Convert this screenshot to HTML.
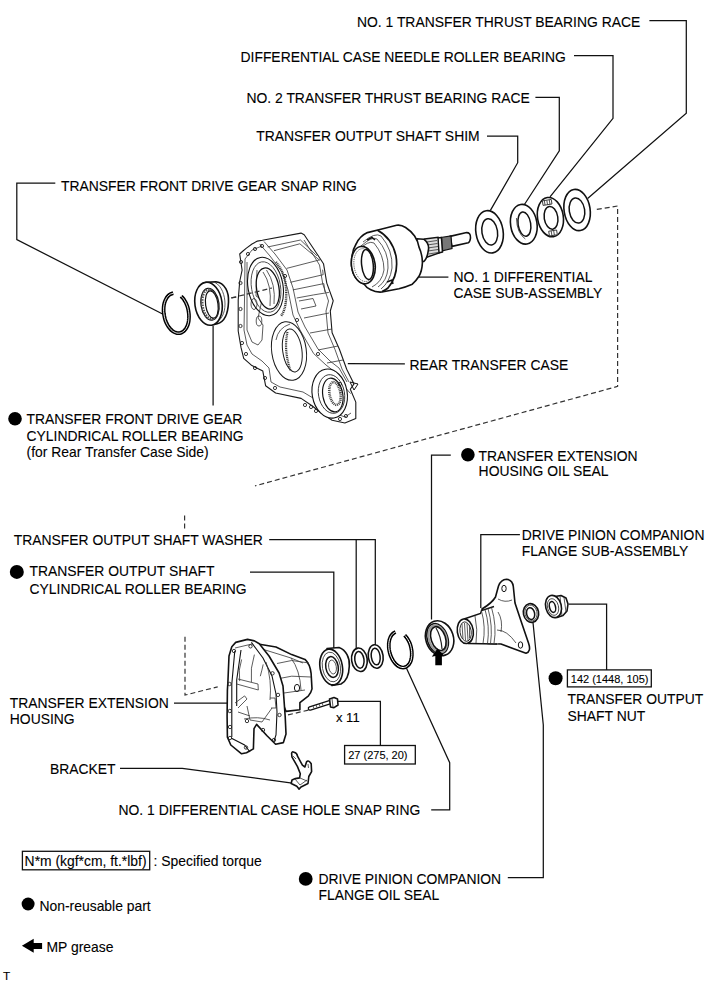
<!DOCTYPE html>
<html><head><meta charset="utf-8">
<style>
html,body{margin:0;padding:0;background:#fff;}
body{width:713px;height:982px;overflow:hidden;position:relative;}
svg{position:absolute;left:0;top:0;}
text{font-family:"Liberation Sans",sans-serif;font-size:13.9px;fill:#000;stroke:#000;stroke-width:0.1px;}
.ld{fill:none;stroke:#111;stroke-width:1.25;}
.ds{fill:none;stroke:#333;stroke-width:1.2;stroke-dasharray:5 3;}
.p{fill:#fff;stroke:#111;stroke-width:1.6;stroke-linejoin:round;}
.t{fill:none;stroke:#333;stroke-width:0.8;}
.tb{fill:none;stroke:#111;stroke-width:1.5;}
.sm{font-size:11px;}
</style></head><body>
<svg width="713" height="982" viewBox="0 0 713 982">
<!-- TEXT LABELS -->
<g id="labels">
<text x="357" y="26.7">NO. 1 TRANSFER THRUST BEARING RACE</text>
<text x="240.5" y="62.1">DIFFERENTIAL CASE NEEDLE ROLLER BEARING</text>
<text x="246.5" y="102.8">NO. 2 TRANSFER THRUST BEARING RACE</text>
<text x="256.3" y="141.1">TRANSFER OUTPUT SHAFT SHIM</text>
<text x="61" y="191">TRANSFER FRONT DRIVE GEAR SNAP RING</text>
<text x="453.5" y="281.7">NO. 1 DIFFERENTIAL</text>
<text x="453.5" y="297.9">CASE SUB-ASSEMBLY</text>
<text x="409.5" y="369.9">REAR TRANSFER CASE</text>
<text x="26.5" y="423.7">TRANSFER FRONT DRIVE GEAR</text>
<text x="26.5" y="440.8">CYLINDRICAL ROLLER BEARING</text>
<text x="26.5" y="456.5">(for Rear Transfer Case Side)</text>
<text x="478.6" y="460.6">TRANSFER EXTENSION</text>
<text x="478.6" y="476.2">HOUSING OIL SEAL</text>
<text x="521.8" y="539.9">DRIVE PINION COMPANION</text>
<text x="521.8" y="555.9">FLANGE SUB-ASSEMBLY</text>
<text x="13.8" y="544.7">TRANSFER OUTPUT SHAFT WASHER</text>
<text x="29.5" y="576.1">TRANSFER OUTPUT SHAFT</text>
<text x="29.5" y="593.5">CYLINDRICAL ROLLER BEARING</text>
<text x="9.8" y="708">TRANSFER EXTENSION</text>
<text x="9.8" y="724">HOUSING</text>
<text x="336" y="722" style="font-size:13px">x 11</text>
<text x="50" y="774">BRACKET</text>
<text x="118.5" y="814.6">NO. 1 DIFFERENTIAL CASE HOLE SNAP RING</text>
<text x="567.5" y="703.7">TRANSFER OUTPUT</text>
<text x="567.5" y="720.5">SHAFT NUT</text>
<text x="318.5" y="884.4">DRIVE PINION COMPANION</text>
<text x="318.5" y="900.1">FLANGE OIL SEAL</text>
<text class="sm" x="570.8" y="682.9">142 (1448, 105)</text>
<text class="sm" x="348.2" y="759">27 (275, 20)</text>
<text x="24.6" y="865.6">N*m (kgf*cm, ft.*lbf)</text>
<text x="153.6" y="866">: Specified torque</text>
<text x="39.5" y="910.5">Non-reusable part</text>
<text x="46.5" y="951.8">MP grease</text>
<text x="3" y="979.7" style="font-size:11.8px">T</text>
</g>
<!-- bullets -->
<g fill="#000">
<circle cx="15" cy="418.8" r="6.8"/>
<circle cx="16.8" cy="571.9" r="7"/>
<circle cx="467.9" cy="454.8" r="6.8"/>
<circle cx="555.6" cy="678.2" r="7"/>
<circle cx="305.7" cy="878.9" r="6.9"/>
<circle cx="28.1" cy="904" r="6.5"/>
</g>
<!-- boxes -->
<rect x="567.4" y="669.9" width="83.9" height="17" fill="none" stroke="#111" stroke-width="1.3"/>
<rect x="344.6" y="745.5" width="70.7" height="18.5" fill="none" stroke="#111" stroke-width="1.3"/>
<rect x="22.4" y="851.3" width="127.3" height="18.5" fill="none" stroke="#111" stroke-width="1.3"/>
<!-- legend arrow -->
<path d="M21.9 945.8 L33.7 938.8 L33.7 943 L42.1 943 L42.1 949 L33.7 949 L33.7 952.7 Z" fill="#000"/>

<!-- LEADER LINES -->
<g class="ld">
<polyline points="649.4,20.5 686.3,20.5 686.3,113.3 587.6,198.5"/>
<polyline points="574,55.6 613,55.6 613,118.4 550,196.8"/>
<polyline points="535.4,97.3 559.3,97.3 559.3,150.8 522.8,207"/>
<polyline points="487,136.1 517.7,136.1 517.7,162.7 490.4,210.4"/>
<polyline points="55.3,183.2 16.8,183.2 16.8,239.6 162.6,314"/>
<polyline points="213.1,326 213.1,405.5"/>
<polyline points="418.9,277.1 448.4,277.1"/>
<polyline points="347.8,363.7 404.9,363.8"/>
<polyline points="450.8,455.2 431.5,455.2 431.5,619.4"/>
<polyline points="519.9,534.5 480.8,534.5 480.8,608"/>
<polyline points="269.2,539.7 375.3,539.7 375.3,645.7"/>
<polyline points="356.2,539.7 356.2,649"/>
<polyline points="250,572 333.8,572 333.8,648"/>
<polyline points="174,703 227.2,703"/>
<polyline points="120,768.4 182.3,768.4 294,783.3"/>
<polyline points="337.9,701.4 380.4,701.4 380.4,745.5"/>
<polyline points="406.5,668.2 449.7,762.7 449.7,809.8 431.2,809.8"/>
<polyline points="568.7,604.1 606.6,604.1 606.6,669.9"/>
<polyline points="533,622.5 543.3,725 543.3,877.7 507.8,877.7"/>
</g>
<!-- DASHED -->
<g class="ds">
<polyline points="596.8,209.4 617.6,206 617.6,386.4 255,485.9"/>
<polyline points="231.3,297.9 262,293"/>
<polyline points="184.6,515.5 184.6,531"/>
<polyline points="185,636.7 185,695.1 217.7,686.8"/>
<polyline points="288,714.9 308.3,710.1"/>
</g>

<g id="parts">
<!-- TOP RINGS -->
<g transform="rotate(-9 489.5 231.8)"><ellipse class="p" cx="489.5" cy="231.8" rx="13.6" ry="21.3" stroke-width="1.5"/><ellipse class="tb" cx="489.7" cy="231.9" rx="7.8" ry="13.2" stroke-width="1.4"/></g>
<g transform="rotate(-9 523.8 224.2)"><ellipse class="p" cx="523.8" cy="224.2" rx="13.2" ry="20" stroke-width="1.5"/><ellipse class="tb" cx="524.4" cy="224.2" rx="6.3" ry="12.3" stroke-width="1.4"/><path class="t" d="M517.5 217 Q515.5 232 523 239" stroke="#222"/></g>
<g transform="rotate(-9 550.4 217.1)"><ellipse class="p" cx="550.4" cy="217.1" rx="12.9" ry="19.8" stroke-width="1.5"/><ellipse class="tb" cx="550.9" cy="217.9" rx="6.8" ry="11.5" stroke-width="1.4"/>
<rect x="545" y="199.8" width="9" height="4.6" fill="#fff" stroke="#333" stroke-width="0.9"/><path class="t" d="M547 200 L547 204.4 M549.5 200 L549.5 204.4 M552 200 L552 204.4" stroke="#333"/>
<rect x="546.5" y="230.8" width="8" height="4.8" fill="#fff" stroke="#333" stroke-width="0.9"/><path class="t" d="M549 231 L549 235.5 M551.5 231 L551.5 235.5" stroke="#333"/></g>
<g transform="rotate(-9 577.1 210)"><ellipse class="p" cx="577.1" cy="210" rx="13" ry="20.8" stroke-width="1.5"/><ellipse class="tb" cx="576.9" cy="210.5" rx="7.7" ry="12.6" stroke-width="1.4"/></g>

<!-- REAR TRANSFER CASE -->
<g id="rearcase">
<path fill="#fff" stroke="#1a1a1a" stroke-width="1.1" stroke-linejoin="round" d="M239.7 254 L243 251 L246.1 248.4 L252 244 L257.4 241.1 L262.3 240.3 L301 233.1 L304.2 234.7 L317.1 254 L323.5 263.7 L326.8 283.1 L333.2 300.8 L330.3 311 L332.1 332.8 L339.4 349.2 L346.7 369.3 L354 383.9 L350.3 389.3 L355.8 402.1 L355.8 418.5 L344.9 423 L332.1 420.3 L321.2 413 L312 405.7 L301.1 398.4 L275.6 393 L265.6 385.7 L262.8 371.1 L251.9 365.6 L243.7 358.3 L241 347.4 L238.2 331 L238.2 300 L239.7 281.5 L242.1 270.2 Z"/>
<!-- inner rim -->
<path class="t" stroke="#222" stroke-width="0.9" d="M245 259 L252 250 L262 246 M245 259 L244.5 300 L244 330 L247 345 L252 354 L262 361 L269 368 L271 382 L280 387 L303 392 L318 401 L334 413 L345 417 L351 413"/>
<path class="t" stroke="#333" stroke-width="0.8" d="M247 262 L247 330 L252 342 L258 345 L262 340 L263 325 L258 318 L262 300 L256 296 L257 270"/>
<ellipse cx="254" cy="304" rx="3" ry="5.5" fill="none" stroke="#333" stroke-width="0.8"/>
<ellipse cx="259" cy="321" rx="2.8" ry="5" fill="none" stroke="#333" stroke-width="0.8"/>
<!-- spine double line -->
<path class="t" stroke="#222" stroke-width="0.9" d="M259.6 243.9 L270 256 L282 272 L288 290 L293 315 L300 330 L313.6 353.5 L326 365 L335 372 L343 385 L350.6 393.6"/>
<path class="t" stroke="#222" stroke-width="0.9" d="M264 241.5 L275 254 L287 270 L293 288 L298 312 L305 327 L318 349 L330 361 L339 368 L347 382"/>
<path class="t" stroke="#222" stroke-width="0.85" d="M304 240 L314 256 L319.5 265 L322.8 284 L328.5 301 L326 311 L328 333 L335 349.5 L342 369 L349 382"/>
<!-- block top and cells -->
<path class="t" stroke="#222" stroke-width="0.9" d="M267.6 247 L300.5 240 M274 250.7 L299.8 243.8 L319.4 260 M300.5 240 L316.9 255.8 M286.6 268.4 L320.7 259.6 M290.4 282.3 L323.2 274.7 L322.6 269.7 M292.9 289.9 L323.8 283.6 M296.7 298 L313.7 294.9 L328.9 292.4 M299 301 L313 298.5 L316 306 L301 309 M304 318 L329 313 M310 333 L332 329 M318 350 L338 346 M327 363 L343 360 M323.8 283.6 L325 292"/>
<!-- top bore -->
<ellipse cx="265.5" cy="286.5" rx="17.5" ry="29.5" transform="rotate(-10 265.5 286.5)" fill="none" stroke="#111" stroke-width="1.1"/><ellipse cx="266" cy="287" rx="14.5" ry="25.5" transform="rotate(-10 266 287)" fill="none" stroke="#333" stroke-width="0.8"/>
<ellipse cx="267.8" cy="288.5" rx="11.2" ry="20.8" transform="rotate(-10 267.8 288.5)" fill="#fff" stroke="#111" stroke-width="1.3"/>
<path d="M276 262 Q288 276 286 300 Q285 311 281 316" fill="none" stroke="#333" stroke-width="2.4" stroke-dasharray="1 0.8"/>
<path class="t" d="M263 272 Q272 285 270 306 M266.5 270 Q276 284 274 304" stroke="#444"/>
<!-- middle bore -->
<ellipse cx="289" cy="351" rx="17.3" ry="29.5" transform="rotate(-8 289 351)" fill="none" stroke="#1a1a1a" stroke-width="1"/>
<path d="M276 340 Q278 328 290 324" fill="none" stroke="#333" stroke-width="0.8"/>
<ellipse cx="292.3" cy="350.5" rx="9.6" ry="21.6" transform="rotate(-8 292.3 350.5)" fill="#fff" stroke="#1a1a1a" stroke-width="1"/>
<path d="M287.5 332 Q283.5 350 290.5 370.5" fill="none" stroke="#333" stroke-width="2.2" stroke-dasharray="1 0.8"/>
<!-- bottom bore -->
<ellipse cx="329.7" cy="393.6" rx="17.5" ry="24.7" transform="rotate(-10 329.7 393.6)" fill="#fff" stroke="#111" stroke-width="1.1"/>
<ellipse cx="331.5" cy="394" rx="13" ry="19.5" transform="rotate(-10 331.5 394)" fill="none" stroke="#333" stroke-width="0.9"/>
<ellipse cx="332.8" cy="395" rx="10" ry="17" transform="rotate(-10 332.8 395)" fill="#fff" stroke="#111" stroke-width="1.2"/>
<ellipse cx="335" cy="393.5" rx="5.5" ry="11.5" transform="rotate(-10 335 393.5)" fill="#fff" stroke="#444" stroke-width="2.6" stroke-dasharray="1 0.8"/>
<path d="M350 382 L358 384 L354 390 Z" fill="none" stroke="#111" stroke-width="1"/>
<!-- bolt holes -->
<g fill="none" stroke="#222" stroke-width="0.9">
<circle cx="241" cy="262" r="1.6"/><circle cx="248" cy="254" r="1.6"/><circle cx="255" cy="249" r="1.6"/><circle cx="262" cy="246" r="1.6"/>
<circle cx="240.5" cy="283" r="1.6"/><circle cx="240.5" cy="309" r="1.6"/><circle cx="240.5" cy="326" r="1.6"/><circle cx="242" cy="343" r="1.6"/>
<circle cx="246" cy="354" r="1.6"/><circle cx="255" cy="368" r="1.6"/><circle cx="265" cy="378" r="1.6"/><circle cx="275" cy="388" r="1.6"/>
<circle cx="305" cy="405" r="1.6"/><circle cx="311" cy="407" r="1.6"/><circle cx="316" cy="411" r="1.6"/><circle cx="340" cy="419" r="1.6"/><circle cx="346" cy="416" r="1.6"/>
<circle cx="285" cy="276" r="1.6"/><circle cx="297" cy="320" r="1.6"/><circle cx="318" cy="354" r="1.6"/><circle cx="340" cy="384" r="1.6"/>
</g>
</g>

<polyline class="ds" points="231.3,297.9 272,288"/>
<!-- DIFFERENTIAL CASE -->
<g>
<!-- shaft end -->
<path class="p" d="M450 236.4 L465.6 232.7 Q471 232 470.5 238 Q470 242 468.3 242.8 L451.9 246.4 Z"/>
<path d="M440.5 237.5 L451 236 L452 248.5 L441.5 251 Z" fill="#777" stroke="#111" stroke-width="1.2"/>
<path class="p" d="M437.5 238 L441.5 237.5 L442.5 252 L438.5 253 Z" stroke-width="1.2"/>
<path d="M424.5 239 L438 237.3 L439 253 L426 257.5 Z" fill="#ddd" stroke="#111" stroke-width="1.4"/>
<path class="t" d="M427 242 L437 240.5 M427 245 L437.5 243.5 M427.5 248 L438 246.5 M428 251 L438 249.5 M428.5 254 L438 252.5" stroke="#555"/>
<path class="p" d="M416.8 238.7 L423.7 239.2 Q430 244 428.2 251 Q427 259 423.7 261.5 L417 262 Z"/>
<!-- drum back -->
<path class="p" stroke-width="1.7" d="M356.2 243.8 Q360 236 367.4 232.6 L380.9 229.2 L396.6 225.3 Q401 224.5 405.6 227.5 Q411 231 414.6 236 Q418 241 419 247.2 Q422.5 255 422.4 262.9 Q422 271 419 276.3 Q416 281 412.3 284.2 Q406 287 398.9 288.7 L382 292 Q376 292.5 370.8 289.8 Q366 287.5 364.1 284.2 Q353 280 351.5 266 Q351 252 356.2 243.8 Z"/>
<path fill="none" stroke="#111" stroke-width="1.7" d="M377.5 230.3 Q392 238 396 256 Q399 275 388 288 Q385 290.5 382 291.5"/>
<path class="t" d="M363 242 Q375 232 381 236 Q393 250 392 268 Q390 282 381 289 M361 246 Q372 236 377 239 Q389 252 388 268 Q387 281 378 287 M359 250 Q368 240 374 243 Q384 255 384 270 Q382 282 372 287" stroke="#333"/>
<path class="tb" stroke-width="1.1" d="M367 240 L372 237.5 L375 240 M387 282 L392 280 L393 284"/>
<ellipse class="p" cx="363.3" cy="265.1" rx="11.8" ry="18.8" transform="rotate(-8 363.3 265.1)" stroke-width="1.6"/>
<ellipse class="t" cx="364" cy="265.1" rx="10" ry="16.5" transform="rotate(-8 364 265.1)" stroke="#555" stroke-dasharray="1.2 1"/>
<ellipse class="tb" cx="367.4" cy="264.5" rx="5.8" ry="15" transform="rotate(-6 367.4 264.5)" stroke-width="1.5"/>
</g>

<!-- EXTENSION HOUSING -->
<g id="exthousing">
<path class="p" stroke-width="1.7" d="M258 644 L276 647 L291.7 654.6 L305 659.4 Q310 664 311.1 673.3 L312 688.9 Q311 693 308.5 695.8 L299.9 702.7 L299.9 709.7 L286 711.4 Z"/>
<path class="t" stroke="#222" stroke-width="0.9" d="M262 649 L291 658 L303 663 M277 663.5 L291.7 660.5 L309 663 M281 678.2 L291.7 676.2 L311 677 M284 693 L305 690 M291 658 Q300 670 301 690"/>
<ellipse cx="297" cy="688" rx="2.6" ry="3.6" fill="none" stroke="#111" stroke-width="1"/>
<path class="p" stroke-width="1.7" d="M231.8 646.8 L235.7 642.4 L247.5 639.4 L254.4 640.9 L259.3 643.8 L269 656 L279.1 673 L283 686 L285.2 716.6 L286 733.9 L283.4 742.6 L275.6 744.3 L267 735.7 L256.6 724.4 L254 728.7 L253.4 748.9 L246.5 752.8 L241.6 753.8 L230.8 745 L227.4 737.1 L227.1 716.6 L227.4 690 L227.9 682.1 L229 656 Z"/>
<path fill="none" stroke="#111" stroke-width="1.1" d="M251.4 642.4 L263 658 L272 676 L276 694 L277 712 L276 735 L274 741 M234.8 650.7 L231.8 684 L231.8 737.1 M231 738 L244.6 745 L250 752 M241 650 L236.7 680 L236.7 706"/>
<path class="t" stroke="#333" stroke-width="0.8" d="M235 648 L252 644 M241.6 659.5 Q238 670 239.7 681.1 M254.4 654.6 Q250 668 251.4 682.1 M263.2 664.4 Q262 670 260.3 676.2 M266 662 Q272 680 270 700 M236.7 684 L258.3 690 L258 684 L238 679 M235 703 L244.6 695.9 L247 699 L238 708 M238 712 L250 716 M244 719 Q258 716 270 720 M247 706 L250 720 L262 722 M262 722 L272 708 M270 698 L275 698 L276 708 L271 708"/>
<g fill="none" stroke="#222" stroke-width="0.9">
<circle cx="234" cy="651" r="1.7"/><circle cx="250.5" cy="646.3" r="1.7"/><circle cx="272.5" cy="673.3" r="1.7"/><circle cx="278" cy="694.9" r="1.7"/>
<circle cx="229.5" cy="684" r="1.7"/><circle cx="229.8" cy="711" r="1.7"/><circle cx="230" cy="727" r="1.7"/><circle cx="230" cy="738" r="1.7"/>
<circle cx="246" cy="747.5" r="1.7"/><circle cx="274" cy="740" r="1.7"/><circle cx="279.5" cy="715" r="1.7"/><circle cx="263" cy="730" r="1.7"/><circle cx="247" cy="721" r="1.7"/>
</g>
</g>
<!-- BOLT -->
<g>
<path d="M310 708.5 L330.5 702" fill="none" stroke="#111" stroke-width="4.6" stroke-linecap="round"/>
<path d="M310 708.5 L330.5 702" fill="none" stroke="#fff" stroke-width="2" stroke-linecap="round"/>
<path class="t" d="M313 706 L314 708.5 M316 705 L317 707.5 M319 704 L320 706.5 M322 703 L323 705.5" stroke="#555"/>
<path class="p" stroke-width="1.3" d="M329.5 699 L334 697.6 L337.5 699 L338 705 L334 707.7 L330.5 707 Z"/>
<path class="t" d="M332 698.5 L333 707"/>
</g>
<!-- BRACKET -->
<path class="p" stroke-width="1.3" d="M291.6 753.3 Q292 751 294 752.3 Q297 753 297.5 756.1 L302.4 765.2 L304.9 767 L306.6 761.7 Q308.5 759.5 311.2 763.8 L311.6 771.6 L308.8 776.5 L308 783.5 L301 787 L299 789.1 L296.8 786.3 L291.2 783.5 L292 780 L295.4 778.6 L299.6 777.9 L300.3 773.7 L297.5 766.6 L291.9 756.8 Z"/>
<path class="t" d="M293 756 L296 759 M308 764 L308.5 768 M295 779 L300 785 L307 780 M300 778 L307 781"/>
<!-- OUTPUT SHAFT BEARING -->
<g>
<path class="p" d="M327 648.5 L339 647.5 C346 650 350 658 349.3 666 C349 676 345 682 341 684 L332 685.5 Z"/>
<ellipse class="p" cx="331.2" cy="667" rx="11.2" ry="18" transform="rotate(-10 331.2 667)"/>
<ellipse class="t" cx="331.4" cy="667" rx="9" ry="15" transform="rotate(-10 331.4 667)"/>
<ellipse class="tb" cx="332" cy="667" rx="6.2" ry="10.5" transform="rotate(-10 332 667)" stroke-width="1.1"/>
<ellipse class="t" cx="332.5" cy="667" rx="3.8" ry="7" transform="rotate(-10 332.5 667)"/>
</g>
<!-- WASHERS -->
<g transform="rotate(-8 359.4 659.8)"><ellipse class="p" cx="359.4" cy="659.8" rx="7.8" ry="11.8"/><ellipse class="tb" cx="359.4" cy="659.8" rx="4.6" ry="8.4" stroke-width="1.3"/></g>
<g transform="rotate(-8 375.7 656.5)"><ellipse class="p" cx="375.7" cy="656.5" rx="7.4" ry="11.8"/><ellipse class="tb" cx="375.7" cy="656.5" rx="4.4" ry="8.4" stroke-width="1.3"/></g>
<!-- HOLE SNAP RING -->
<path d="M404.7 635.3 L405.9 636.6 L407.0 638.1 L408.0 639.7 L409.0 641.5 L409.8 643.3 L410.5 645.2 L411.0 647.2 L411.4 649.3 L411.7 651.3 L411.8 653.3 L411.8 655.3 L411.6 657.2 L411.3 659.0 L410.9 660.6 L410.3 662.2 L409.5 663.5 L408.7 664.7 L407.7 665.7 L406.7 666.5 L405.5 667.1 L404.3 667.4 L403.1 667.6 L401.8 667.4 L400.5 667.1 L399.2 666.5 L397.9 665.8 L396.6 664.8 L395.4 663.6 L394.2 662.2 L393.2 660.7 L392.2 659.0 L391.3 657.2 L390.5 655.3 L389.9 653.4 L389.4 651.4 L389.0 649.3 L388.8 647.3 L388.8 645.3 L388.8 643.4 L389.1 641.5 L389.4 639.8 L390.0 638.1 L390.6 636.7 L391.4 635.4 L392.3 634.3 L393.3 633.3 L394.4 632.6 L395.5 632.1" fill="none" stroke="#000" stroke-width="3.8"/>
<path d="M404.7 635.3 L405.9 636.6 L407.0 638.1 L408.0 639.7 L409.0 641.5 L409.8 643.3 L410.5 645.2 L411.0 647.2 L411.4 649.3 L411.7 651.3 L411.8 653.3 L411.8 655.3 L411.6 657.2 L411.3 659.0 L410.9 660.6 L410.3 662.2 L409.5 663.5 L408.7 664.7 L407.7 665.7 L406.7 666.5 L405.5 667.1 L404.3 667.4 L403.1 667.6 L401.8 667.4 L400.5 667.1 L399.2 666.5 L397.9 665.8 L396.6 664.8 L395.4 663.6 L394.2 662.2 L393.2 660.7 L392.2 659.0 L391.3 657.2 L390.5 655.3 L389.9 653.4 L389.4 651.4 L389.0 649.3 L388.8 647.3 L388.8 645.3 L388.8 643.4 L389.1 641.5 L389.4 639.8 L390.0 638.1 L390.6 636.7 L391.4 635.4 L392.3 634.3 L393.3 633.3 L394.4 632.6 L395.5 632.1" fill="none" stroke="#fff" stroke-width="1.0"/>
<!-- OIL SEAL -->
<g>
<ellipse class="p" cx="439.6" cy="638.2" rx="13.8" ry="17.8" transform="rotate(-18 439.6 638.2)" stroke-width="1.7"/>
<ellipse cx="437.6" cy="638.8" rx="10.2" ry="15.6" transform="rotate(-18 437.6 638.8)" fill="none" stroke="#111" stroke-width="1.5"/>
<ellipse cx="437.8" cy="638.8" rx="8.8" ry="14" transform="rotate(-18 437.8 638.8)" fill="none" stroke="#999" stroke-width="2"/>
<ellipse cx="438.3" cy="638.6" rx="7.2" ry="12.3" transform="rotate(-18 438.3 638.6)" fill="#fff" stroke="#111" stroke-width="1.6"/>
<path d="M436 628 Q441 636 442 649" fill="none" stroke="#222" stroke-width="1.2"/>
<path d="M437.5 648.5 L443.8 655.3 L441.9 655.8 L441.9 665.2 L435.3 665.2 L435.3 656 L431.8 656.8 Z" fill="#000"/>
</g>
<!-- FLANGE -->
<g>
<path class="p" stroke-width="1.5" d="M482 609 Q492 603 495.5 597 L498.5 586 Q501 579.5 506.5 579.3 Q512.5 579.8 513.3 586.5 L515 603 L521 621 L528.5 643 Q531.5 651.5 526 653.3 L513 648.5 L501 644 L488 643.5 Z"/>
<path d="M464 619 L480.5 613.5 L481.5 610.5 L496 606 L499 620 L499 643 L494 644 L468 643.5 Z" fill="#fff" stroke="none"/>
<path fill="none" stroke="#111" stroke-width="1.4" d="M464 619 L480.5 613.5 L481.5 610.5 L494 606.5 M468 643.5 L497 644"/>
<ellipse class="p" cx="465.3" cy="631.2" rx="8" ry="12.4" transform="rotate(-8 465.3 631.2)" stroke-width="1.5"/>
<ellipse cx="465.6" cy="631.6" rx="5.6" ry="9.8" transform="rotate(-8 465.6 631.6)" fill="#fff" stroke="#222" stroke-width="0.9"/>
<path class="t" stroke="#555" stroke-width="0.8" d="M462 624 L463 639 M464.5 623 L465.5 640.5 M467 623 L468 640.5 M469.5 625 L469.5 638"/>
<path class="t" stroke="#333" stroke-width="0.8" d="M481.5 611 Q486 627 483 643.5 M485 609.5 Q490 626 487.5 643.5 M488 608.5 Q493 626 490.5 643.5 M491.5 607.5 Q497 626 494 643.5 M475 616 Q478 630 476 643"/>
<path class="t" stroke="#333" stroke-width="0.8" d="M498 599 Q505 603 512 600 M497 630 Q507 630 516 643 M498 612 Q503 620 501 632"/>
<ellipse cx="504" cy="588.5" rx="2.2" ry="3.2" fill="none" stroke="#111" stroke-width="1"/>
<ellipse cx="520.5" cy="645" rx="2.2" ry="3.2" fill="none" stroke="#111" stroke-width="1"/>
</g>
<!-- SMALL SEAL -->
<g transform="rotate(-12 531 613)"><ellipse class="p" cx="531" cy="613" rx="7.6" ry="9.4"/><ellipse class="tb" cx="530.5" cy="613.5" rx="4" ry="6" stroke-width="1.3"/><ellipse class="t" cx="531" cy="613" rx="6" ry="8"/></g>
<!-- NUT -->
<g>
<path class="p" d="M555 596.5 L561 595.5 L566 598 L568 604 L567 611 L563 615.5 L557 617.5 Z" stroke-width="1.5"/>
<path class="t" d="M560 596 L562 616 M564 597.5 L566 612"/>
<ellipse class="p" cx="553.5" cy="606.5" rx="7.8" ry="11.3" transform="rotate(-14 553.5 606.5)"/>
<ellipse class="tb" cx="552.5" cy="607" rx="3" ry="5.5" transform="rotate(-14 552.5 607)" stroke-width="1.3"/>
<ellipse class="t" cx="553" cy="607" rx="5.5" ry="8.5" transform="rotate(-14 553 607)"/>
</g>

<!-- LEFT SNAP RING + BEARING -->
<g>
<path d="M181.1 296.2 L182.4 297.6 L183.7 299.1 L184.8 300.9 L185.9 302.8 L186.8 304.9 L187.6 307.1 L188.2 309.4 L188.6 311.7 L188.9 314.1 L189.0 316.4 L188.9 318.7 L188.7 321.0 L188.3 323.1 L187.7 325.1 L186.9 326.9 L186.0 328.5 L185.0 329.9 L183.9 331.1 L182.6 332.0 L181.3 332.7 L179.9 333.1 L178.4 333.2 L176.9 333.1 L175.4 332.6 L173.9 331.9 L172.5 331.0 L171.1 329.8 L169.8 328.3 L168.5 326.7 L167.4 324.9 L166.4 322.9 L165.5 320.8 L164.8 318.5 L164.3 316.2 L163.9 313.9 L163.6 311.5 L163.6 309.2 L163.7 306.9 L164.0 304.7 L164.5 302.6 L165.2 300.7 L166.0 299.0 L166.9 297.4 L168.0 296.1 L169.1 295.0 L170.4 294.1 L171.8 293.6 L173.2 293.2" fill="none" stroke="#000" stroke-width="3.8"/>
<path d="M181.1 296.2 L182.4 297.6 L183.7 299.1 L184.8 300.9 L185.9 302.8 L186.8 304.9 L187.6 307.1 L188.2 309.4 L188.6 311.7 L188.9 314.1 L189.0 316.4 L188.9 318.7 L188.7 321.0 L188.3 323.1 L187.7 325.1 L186.9 326.9 L186.0 328.5 L185.0 329.9 L183.9 331.1 L182.6 332.0 L181.3 332.7 L179.9 333.1 L178.4 333.2 L176.9 333.1 L175.4 332.6 L173.9 331.9 L172.5 331.0 L171.1 329.8 L169.8 328.3 L168.5 326.7 L167.4 324.9 L166.4 322.9 L165.5 320.8 L164.8 318.5 L164.3 316.2 L163.9 313.9 L163.6 311.5 L163.6 309.2 L163.7 306.9 L164.0 304.7 L164.5 302.6 L165.2 300.7 L166.0 299.0 L166.9 297.4 L168.0 296.1 L169.1 295.0 L170.4 294.1 L171.8 293.6 L173.2 293.2" fill="none" stroke="#fff" stroke-width="0.9"/>
<path class="p" d="M206 282.4 L216 281.7 C225 283 229 292 228.5 302 C228 315 224 322 217.3 323.8 L210.3 325.2 Z"/>
<path class="t" d="M215 282.5 C222 286 225 296 225 304 C225 314 221 320 215 323.5" stroke="#444"/>
<ellipse class="p" cx="208.5" cy="303.8" rx="13.6" ry="21.6" transform="rotate(-8 208.5 303.8)"/>
<ellipse cx="210" cy="304.3" rx="9" ry="16" transform="rotate(-8 210 304.3)" fill="#fff" stroke="#111" stroke-width="1.2"/>
<ellipse cx="210" cy="304.3" rx="7.6" ry="14.8" transform="rotate(-8 210 304.3)" fill="none" stroke="#555" stroke-width="2.6" stroke-dasharray="1.6 1.1"/>
<ellipse cx="211.8" cy="304.5" rx="6.2" ry="13.8" transform="rotate(-8 211.8 304.5)" fill="#fff" stroke="#111" stroke-width="1.2"/>
</g>

</g>
</svg>
</body></html>
